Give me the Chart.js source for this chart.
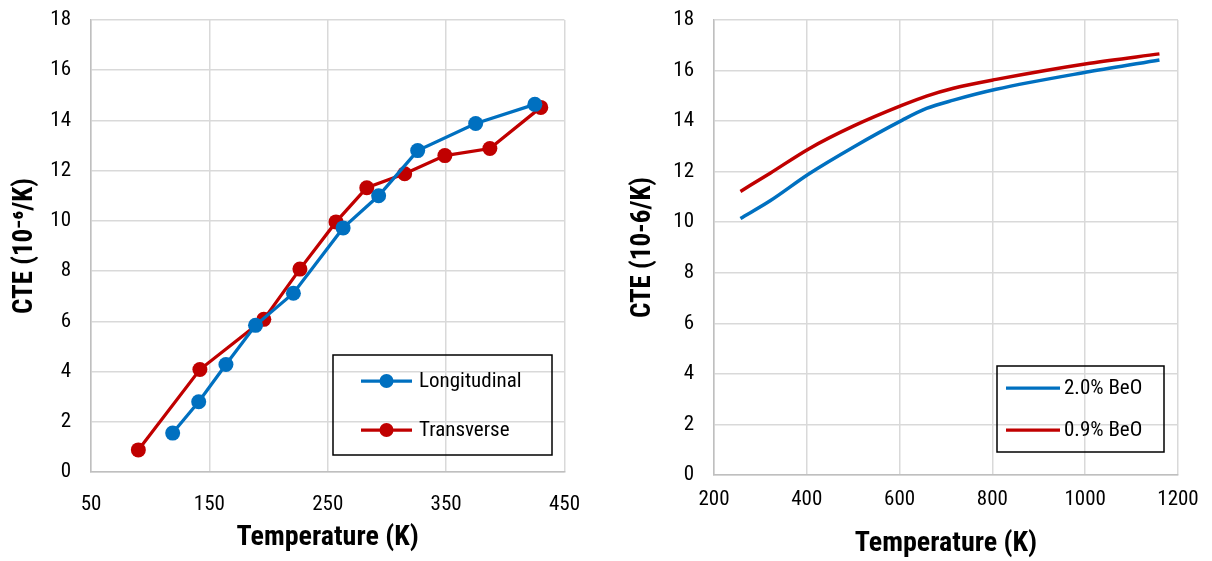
<!DOCTYPE html>
<html>
<head>
<meta charset="utf-8">
<script src="https://cdn.jsdelivr.net/npm/chart.js@4/dist/chart.umd.min.js"></script>
<style>
  html, body { margin: 0; padding: 0; background: #fff; }
  #wrap { position: relative; width: 1212px; height: 561px; }
  .box { position: absolute; top: 0; height: 561px; }
  #boxL { left: 0; width: 600px; }
  #boxR { left: 600px; width: 612px; }
</style>
</head>
<body>
<div id="wrap">
  <div class="box" id="boxL"><canvas id="chartL"></canvas></div>
  <div class="box" id="boxR"><canvas id="chartR"></canvas></div>
</div>
<script>
// Left panel: measured points (K, CTE 10^-6/K)
const longT = [119, 141, 164, 189, 221, 263, 293, 326, 375, 425];
const longCTE = [1.55, 2.8, 4.28, 5.84, 7.12, 9.72, 11.0, 12.8, 13.88, 14.64];
const transT = [90, 142, 196, 226.5, 257, 283, 315, 349, 387, 430];
const transCTE = [0.88, 4.08, 6.08, 8.08, 9.96, 11.32, 11.88, 12.6, 12.88, 14.52];
const leftXTicks = [50, 150, 250, 350, 450];

// Right panel: smooth curves
const curveT = [257, 321, 405, 500, 606, 658, 716, 808, 1010, 1160];
const beo20 = [10.15, 10.85, 11.92, 12.97, 14.04, 14.5, 14.83, 15.26, 15.96, 16.42];
const beo09 = [11.22, 11.94, 12.91, 13.8, 14.63, 14.99, 15.3, 15.65, 16.29, 16.66];
const rightXTicks = [200, 400, 600, 800, 1000, 1200];
const yTicks = [0, 2, 4, 6, 8, 10, 12, 14, 16, 18];

const BLUE = '#0070C0';
const RED = '#C00000';
const FONT = "'Roboto Condensed', Roboto, sans-serif";

function pts(xs, ys) { return xs.map((x, i) => ({ x: x, y: ys[i] })); }

// legend drawn inside the plot, Excel style
const boxLegend = {
  id: 'boxLegend',
  afterDraw(chart, args, opts) {
    const ctx = chart.ctx;
    ctx.save();
    ctx.strokeStyle = '#000';
    ctx.lineWidth = 1.5;
    ctx.strokeRect(opts.x, opts.y, opts.w, opts.h);
    ctx.font = '21px ' + FONT;
    ctx.textBaseline = 'middle';
    chart.data.datasets.forEach((ds, i) => {
      const y = opts.rows[i];
      ctx.strokeStyle = ds.borderColor;
      ctx.lineWidth = 3.25;
      ctx.beginPath();
      ctx.moveTo(opts.x + opts.l0, y);
      ctx.lineTo(opts.x + opts.l1, y);
      ctx.stroke();
      if (ds.pointRadius > 0) {
        ctx.fillStyle = ds.borderColor;
        ctx.beginPath();
        ctx.arc(opts.x + (opts.l0 + opts.l1) / 2, y, 7, 0, Math.PI * 2);
        ctx.fill();
      }
      ctx.fillStyle = '#000';
      ctx.fillText(ds.label, opts.x + opts.tx, y + 1);
    });
    ctx.restore();
  }
};

function makeScales(cfg) {
  return {
    x: {
      type: 'linear', min: cfg.xMin, max: cfg.xMax,
      afterBuildTicks: s => { s.ticks = cfg.xTicks.map(v => ({ value: v })); },
      afterFit: s => { s.height = cfg.xH; },
      grid: { color: '#d9d9d9', lineWidth: 1.5, drawTicks: false },
      border: { color: '#bfbfbf', width: 1.5 },
      ticks: { color: '#000', padding: cfg.xPad, font: { family: FONT, size: 21 }, callback: v => String(v) },
      title: { display: true, text: 'Temperature (K)', color: '#000', padding: { top: 0, bottom: cfg.titleB },
               font: { family: FONT, size: 28, weight: 'bold' } }
    },
    y: {
      type: 'linear', min: 0, max: 18,
      afterBuildTicks: s => { s.ticks = yTicks.map(v => ({ value: v })); },
      afterFit: s => { s.width = cfg.yW; s.paddingTop = 0; s.paddingBottom = 0; },
      grid: { color: '#d9d9d9', lineWidth: 1.5, drawTicks: false },
      border: { color: '#bfbfbf', width: 1.5 },
      ticks: { color: '#000', padding: 20, font: { family: FONT, size: 21 }, callback: v => String(v) },
      title: { display: true, text: cfg.yLabel, color: '#000', padding: { top: 0, bottom: 0 },
               font: { family: FONT, size: 27, weight: 'bold' } }
    }
  };
}

new Chart(document.getElementById('chartL'), {
  type: 'scatter',
  data: {
    datasets: [
      { label: 'Longitudinal', data: pts(longT, longCTE), showLine: true,
        borderColor: BLUE, backgroundColor: BLUE, borderWidth: 3.25, pointRadius: 7.5, pointBorderWidth: 0 },
      { label: 'Transverse', data: pts(transT, transCTE), showLine: true,
        borderColor: RED, backgroundColor: RED, borderWidth: 3.25, pointRadius: 7.5, pointBorderWidth: 0 }
    ]
  },
  options: {
    responsive: true, maintainAspectRatio: false, animation: false,
    layout: { padding: { top: 20, right: 33, left: 9, bottom: 0 } },
    plugins: {
      legend: { display: false }, tooltip: { enabled: false },
      boxLegend: { x: 333, y: 355, w: 219, h: 100, rows: [381, 430], l0: 28, l1: 79, tx: 86 }
    },
    scales: makeScales({ xMin: 50, xMax: 450, xTicks: leftXTicks, yLabel: 'CTE (10\u207B\u2076/K)',
                         yW: 82, xH: 89, xPad: 20, titleB: 6 })
  },
  plugins: [boxLegend]
});

new Chart(document.getElementById('chartR'), {
  type: 'scatter',
  data: {
    datasets: [
      { label: '2.0% BeO', data: pts(curveT, beo20), showLine: true, cubicInterpolationMode: 'monotone',
        borderColor: BLUE, backgroundColor: BLUE, borderWidth: 3.5, pointRadius: 0 },
      { label: '0.9% BeO', data: pts(curveT, beo09), showLine: true, cubicInterpolationMode: 'monotone',
        borderColor: RED, backgroundColor: RED, borderWidth: 3.5, pointRadius: 0 }
    ]
  },
  options: {
    responsive: true, maintainAspectRatio: false, animation: false,
    layout: { padding: { top: 20, right: 34, left: 27, bottom: 0 } },
    plugins: {
      legend: { display: false }, tooltip: { enabled: false },
      boxLegend: { x: 397, y: 366, w: 167, h: 86, rows: [388, 430], l0: 9, l1: 63, tx: 67 }
    },
    scales: makeScales({ xMin: 200, xMax: 1200, xTicks: rightXTicks, yLabel: 'CTE (10-6/K)',
                         yW: 87, xH: 86, xPad: 12, titleB: 0 })
  },
  plugins: [boxLegend]
});
</script>
</body>
</html>
